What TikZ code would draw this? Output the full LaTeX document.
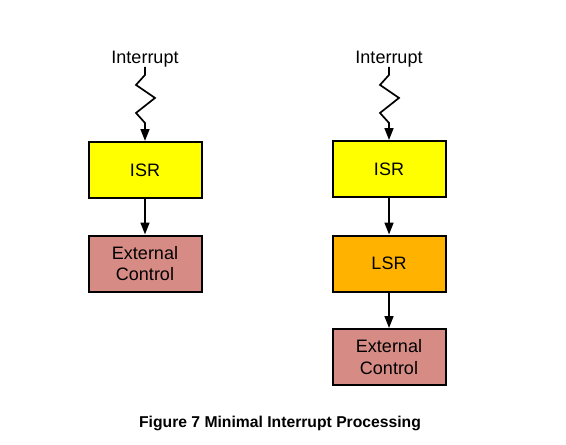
\documentclass[tikz,border=0pt]{standalone}
\usepackage{fontspec}
\setmainfont{Liberation Sans}
\usetikzlibrary{arrows.meta}
\definecolor{isrc}{HTML}{FFFF00}
\definecolor{lsrc}{HTML}{FFB300}
\definecolor{extc}{HTML}{D68B85}
\begin{document}
\begin{tikzpicture}[x=1pt,y=-1pt,
  box/.style={draw=black,line width=2pt,minimum width=113pt,minimum height=56pt,inner sep=0pt,align=center,font=\fontsize{18}{21.7}\selectfont},
  lbl/.style={inner sep=0pt,anchor=base,font=\fontsize{18}{21.7}\selectfont},
  arr/.style={line width=1.7pt,-{Triangle[length=12pt,width=9pt]}}]
\useasboundingbox (0,0) rectangle (566,445);
% left column
\node[lbl] (int1) at (145,63) {Interrupt};
\node[box,fill=isrc] (isr1) at (145,170) {ISR};
\node[box,fill=extc] (ext1) at (145,263.5) {External\\Control};
\draw[arr] (int1.south) -- ++(0,8) -- ++(-9,10) -- ++(19,13) -- ++(-19,15) -- ++(9,10) -- (isr1.north);
\draw[arr] (isr1.south) -- (ext1.north);
% right column
\node[lbl] (int2) at (389,63) {Interrupt};
\node[box,fill=isrc] (isr2) at (389,169) {ISR};
\node[box,fill=lsrc] (lsr2) at (389,263.5) {LSR};
\node[box,fill=extc] (ext2) at (389,357) {External\\Control};
\draw[arr] (int2.south) -- ++(0,8) -- ++(-9,10) -- ++(19,13) -- ++(-19,15) -- ++(9,10) -- (isr2.north);
\draw[arr] (isr2.south) -- (lsr2.north);
\draw[arr] (lsr2.south) -- (ext2.north);
% caption
\node[inner sep=0pt,anchor=base,font=\fontsize{15.7}{18}\selectfont\bfseries] (cap) at (280,427) {Figure 7 Minimal Interrupt Processing};
\end{tikzpicture}
\end{document}
